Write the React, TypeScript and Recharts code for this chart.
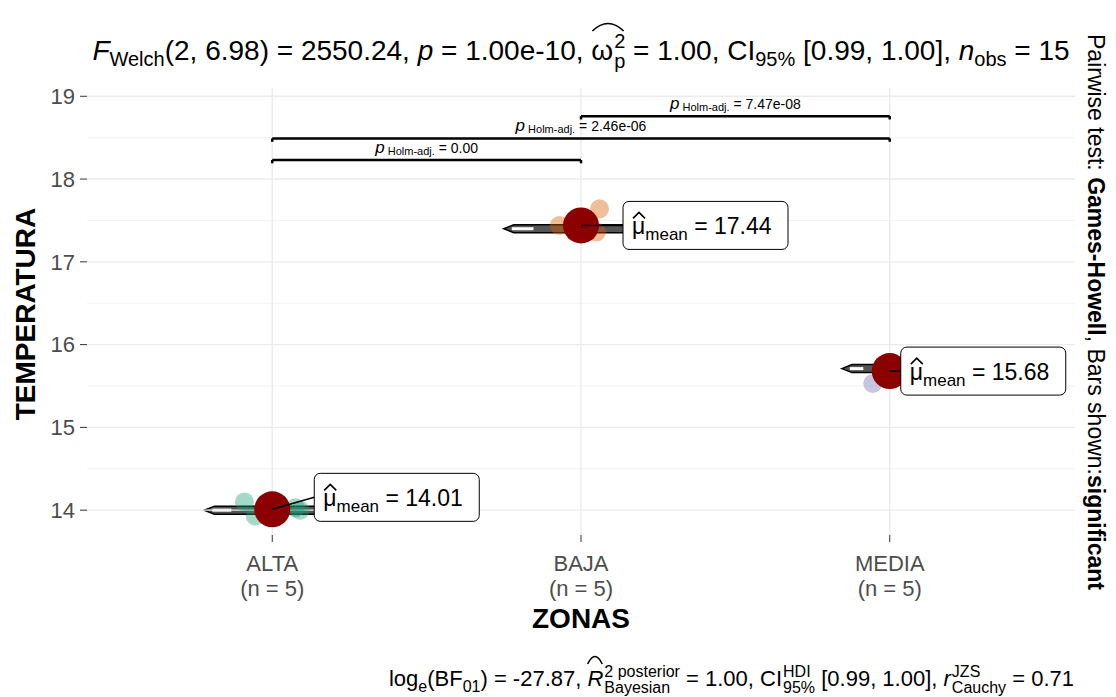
import React from "react"
import {
  ComposedChart,
  Scatter,
  XAxis,
  YAxis,
  ReferenceLine,
  ReferenceArea,
} from "recharts"

// groups on the x axis
const groups = ["ALTA", "BAJA", "MEDIA"]
const groupN = [5, 5, 5]

// TEMPERATURA readings per zone
const alta = [14.1, 13.93, 14.03, 14.0, 13.99]
const baja = [17.44, 17.64, 17.36, 17.4, 17.36]
const media = [15.53, 15.7, 15.74, 15.72, 15.71]
const jitterAlta = [-0.09, -0.055, 0.075, 0.09, 0.01]
const jitterBaja = [-0.07, 0.06, 0.05, -0.02, 0.02]
const jitterMedia = [-0.055, 0.02, 0.03, -0.02, 0.0]

const means = [14.01, 17.44, 15.68]
const meanLabels = ["14.01", "17.44", "15.68"]

// pairwise comparisons (Games-Howell, Holm adjusted)
const pairFrom = [1, 1, 2]
const pairTo = [2, 3, 3]
const pairP = ["0.00", "2.46e-06", "7.47e-08"]
const pairY = [18.23, 18.49, 18.76]

const yTicks = [14, 15, 16, 17, 18, 19]
const yMinor = [14.5, 15.5, 16.5, 17.5, 18.5]
const xTicks = [1, 2, 3]

// layout helpers (not data)
const colors = ["#1B9E77", "#D95F02", "#7570B3"]
const violinHalf = [0.22, 0.25, 0.155]
const labelShift = [
  [42, -12],
  [42, 0],
  [11, 0],
]

const FONT = "'Liberation Sans', Arial, Helvetica, sans-serif"

const series = [alta, baja, media]
const jitters = [jitterAlta, jitterBaja, jitterMedia]

const median = (v: number[]) => {
  const s = [...v].sort((a, b) => a - b)
  return s[Math.floor(s.length / 2)]
}

const pointData = series.map((vals, g) =>
  vals.map((v, i) => ({ x: g + 1 + jitters[g][i], y: v }))
)
const meanData = means.map((m, i) => ({ x: i + 1, y: m, idx: i }))
const pairLabelData = pairP.map((p, i) => ({
  x: (pairFrom[i] + pairTo[i]) / 2,
  y: pairY[i],
  p,
}))

const XTick = (props: any) => {
  const { x, y, payload } = props
  const i = payload.value - 1
  return (
    <g fontFamily={FONT} fontSize={22} fill="#4D4D4D">
      <text x={x} y={y + 27} textAnchor="middle" fill="#4D4D4D">
        {groups[i]}
      </text>
      <text x={x} y={y + 52} textAnchor="middle" fill="#4D4D4D">
        (n = {groupN[i]})
      </text>
    </g>
  )
}

const ViolinShape = (props: any) => {
  const { x, y, width, height } = props
  const cy = y + height / 2
  const h = 4
  return (
    <g>
      <path
        d={`M${x},${cy} L${x + 10},${cy - h} L${x + width},${cy - h} L${x + width},${cy + h} L${x + 10},${cy + h} Z`}
        fill="#555555"
        stroke="#000"
        strokeWidth={1.5}
      />
      <rect x={x + 8} y={cy - 1.5} width={width * 0.14} height={3} fill="#fff" />
    </g>
  )
}

const MeanMark = (props: any) => {
  const { cx, cy, payload } = props
  const i = payload.idx
  const [dx, dy] = labelShift[i]
  const bx = cx + dx
  const by = cy + dy - 24
  return (
    <g>
      <circle cx={cx} cy={cy} r={18} fill="#8B0000" />
      <line x1={cx} y1={cy} x2={bx} y2={cy + dy} stroke="#000" strokeWidth={1.5} />
      <rect x={bx} y={by} width={165} height={48} rx={6} fill="#fff" stroke="#000" strokeWidth={1} />
      <path
        d={`M${bx + 10},${by + 17} L${bx + 16},${by + 11} L${bx + 22},${by + 17}`}
        stroke="#000"
        strokeWidth={1.6}
        fill="none"
      />
      <text x={bx + 9} y={by + 33} fontSize={23} fontFamily={FONT} fill="#000">
        <tspan>{"\u03bc"}</tspan>
        <tspan fontSize={17} dy={6}>mean</tspan>
        <tspan dy={-6}>{" = " + meanLabels[i]}</tspan>
      </text>
    </g>
  )
}

const PairLabel = (props: any) => {
  const { cx, cy, payload } = props
  return (
    <text x={cx} y={cy - 7} textAnchor="middle" fontFamily={FONT} fill="#000">
      <tspan fontSize={17} fontStyle="italic">p</tspan>
      <tspan fontSize={11} dy={2}>{" Holm-adj."}</tspan>
      <tspan fontSize={14} dy={-2}>{" = " + payload.p}</tspan>
    </text>
  )
}

const Sub = ({ children, size = 16 }: any) => (
  <span style={{ fontSize: size, verticalAlign: "-6px" }}>{children}</span>
)

const Stack = ({ sup, sub, size = 16, up = 10 }: any) => (
  <span
    style={{
      display: "inline-flex",
      flexDirection: "column",
      verticalAlign: `${up}px`,
      fontSize: size,
      lineHeight: `${size}px`,
      marginLeft: 1,
    }}
  >
    <span>{sup}</span>
    <span>{sub}</span>
  </span>
)

const Hat = ({ children }: any) => (
  <span style={{ position: "relative", display: "inline-block" }}>
    <svg
      style={{ position: "absolute", left: 0, top: -9, width: "100%", height: 10, overflow: "visible" }}
      viewBox="0 0 100 10"
      preserveAspectRatio="none"
    >
      <path d="M4,9 Q50,-6 96,9" stroke="#000" fill="none" strokeWidth={1.6} vectorEffect="non-scaling-stroke" />
    </svg>
    {children}
  </span>
)

export default function App() {
  return (
    <div style={{ position: "absolute", left: 0, top: 0, width: 1116, height: 697, background: "#fff", fontFamily: FONT }}>
      <ComposedChart
        width={1116}
        height={697}
        margin={{ top: 88, right: 41, left: 0, bottom: 82 }}
      >
        {yMinor.map((v) => (
          <ReferenceLine key={"mn" + v} y={v} stroke="#F3F3F3" strokeWidth={1} />
        ))}
        {yTicks.map((v) => (
          <ReferenceLine key={"mj" + v} y={v} stroke="#EBEBEB" strokeWidth={1.4} />
        ))}
        {xTicks.map((v) => (
          <ReferenceLine key={"vx" + v} x={v} stroke="#EBEBEB" strokeWidth={1.4} />
        ))}
        <XAxis
          type="number"
          dataKey="x"
          domain={[0.4, 3.6]}
          ticks={xTicks}
          axisLine={false}
          tickLine={{ stroke: "#333333" }}
          tickSize={7}
          height={80}
          tick={<XTick />}
          allowDataOverflow
        />
        <YAxis
          type="number"
          dataKey="y"
          domain={[13.7, 19.1]}
          ticks={yTicks}
          axisLine={false}
          tickLine={{ stroke: "#333333" }}
          tickSize={7}
          tickMargin={5}
          width={87}
          tick={{ fill: "#4D4D4D", fontSize: 22, fontFamily: FONT }}
          allowDataOverflow
        />
        {series.map((vals, g) => {
          const m = median(vals)
          return (
            <ReferenceArea
              key={"v" + g}
              x1={g + 1 - violinHalf[g]}
              x2={g + 1 + violinHalf[g]}
              y1={m - 0.05}
              y2={m + 0.05}
              shape={<ViolinShape />}
            />
          )
        })}
        {pointData.map((d, g) => (
          <Scatter
            key={"p" + g}
            data={d}
            fill={colors[g]}
            fillOpacity={0.4}
            isAnimationActive={false}
            shape={(p: any) => <circle cx={p.cx} cy={p.cy} r={9.5} fill={colors[g]} fillOpacity={0.4} />}
          />
        ))}
        {pairFrom.map((f, i) => (
          <ReferenceLine
            key={"b" + i}
            segment={[
              { x: f, y: pairY[i] },
              { x: pairTo[i], y: pairY[i] },
            ]}
            stroke="#000"
            strokeWidth={2.5}
          />
        ))}
        {pairFrom.map((f, i) => (
          <ReferenceLine
            key={"tl" + i}
            segment={[
              { x: f, y: pairY[i] },
              { x: f, y: pairY[i] - 0.04 },
            ]}
            stroke="#000"
            strokeWidth={2.5}
          />
        ))}
        {pairTo.map((t, i) => (
          <ReferenceLine
            key={"tr" + i}
            segment={[
              { x: t, y: pairY[i] },
              { x: t, y: pairY[i] - 0.04 },
            ]}
            stroke="#000"
            strokeWidth={2.5}
          />
        ))}
        <Scatter data={pairLabelData} isAnimationActive={false} shape={<PairLabel />} />
        <Scatter data={meanData} isAnimationActive={false} shape={<MeanMark />} />
      </ComposedChart>

      <svg
        width={1116}
        height={697}
        style={{ position: "absolute", left: 0, top: 0, pointerEvents: "none" }}
        fontFamily={FONT}
      >
        <text transform="translate(35,314) rotate(-90)" textAnchor="middle" fontSize={28} fontWeight="bold" fill="#000">
          TEMPERATURA
        </text>
        <text x={581} y={628} textAnchor="middle" fontSize={28} fontWeight="bold" fill="#000">
          ZONAS
        </text>
        <text transform="translate(1088,312) rotate(90)" textAnchor="middle" fontSize={23} fill="#000">
          <tspan>Pairwise test: </tspan>
          <tspan fontWeight="bold">Games-Howell</tspan>
          <tspan>, Bars shown:</tspan>
          <tspan fontWeight="bold">significant</tspan>
        </text>
      </svg>

      <div
        style={{
          position: "absolute",
          left: 60,
          width: 1042,
          top: 31,
          textAlign: "center",
          fontSize: 28,
          lineHeight: "36px",
          whiteSpace: "nowrap",
          color: "#000",
        }}
      >
        <i>F</i>
        <Sub size={20}>Welch</Sub>(2, 6.98) = 2550.24, <i>p</i> = 1.00e-10,{" "}
        <Hat>
          {"\u03c9"}
          <Stack sup="2" sub="p" size={20} up={12} />
        </Hat>{" "}
        = 1.00, CI<Sub size={20}>95%</Sub> [0.99, 1.00], <i>n</i>
        <Sub size={20}>obs</Sub> = 15
      </div>

      <div
        style={{
          position: "absolute",
          right: 42,
          top: 664,
          fontSize: 22,
          lineHeight: "30px",
          whiteSpace: "nowrap",
          color: "#000",
        }}
      >
        log<Sub size={16}>e</Sub>(BF<Sub size={16}>01</Sub>) = -27.87,{" "}
        <Hat>
          <i>R</i>
        </Hat>
        <Stack sup="2 posterior" sub="Bayesian" size={16} up={9} /> = 1.00, CI
        <Stack sup="HDI" sub="95%" size={16} up={9} /> [0.99, 1.00], <i>r</i>
        <Stack sup="JZS" sub="Cauchy" size={16} up={9} /> = 0.71
      </div>
    </div>
  )
}
